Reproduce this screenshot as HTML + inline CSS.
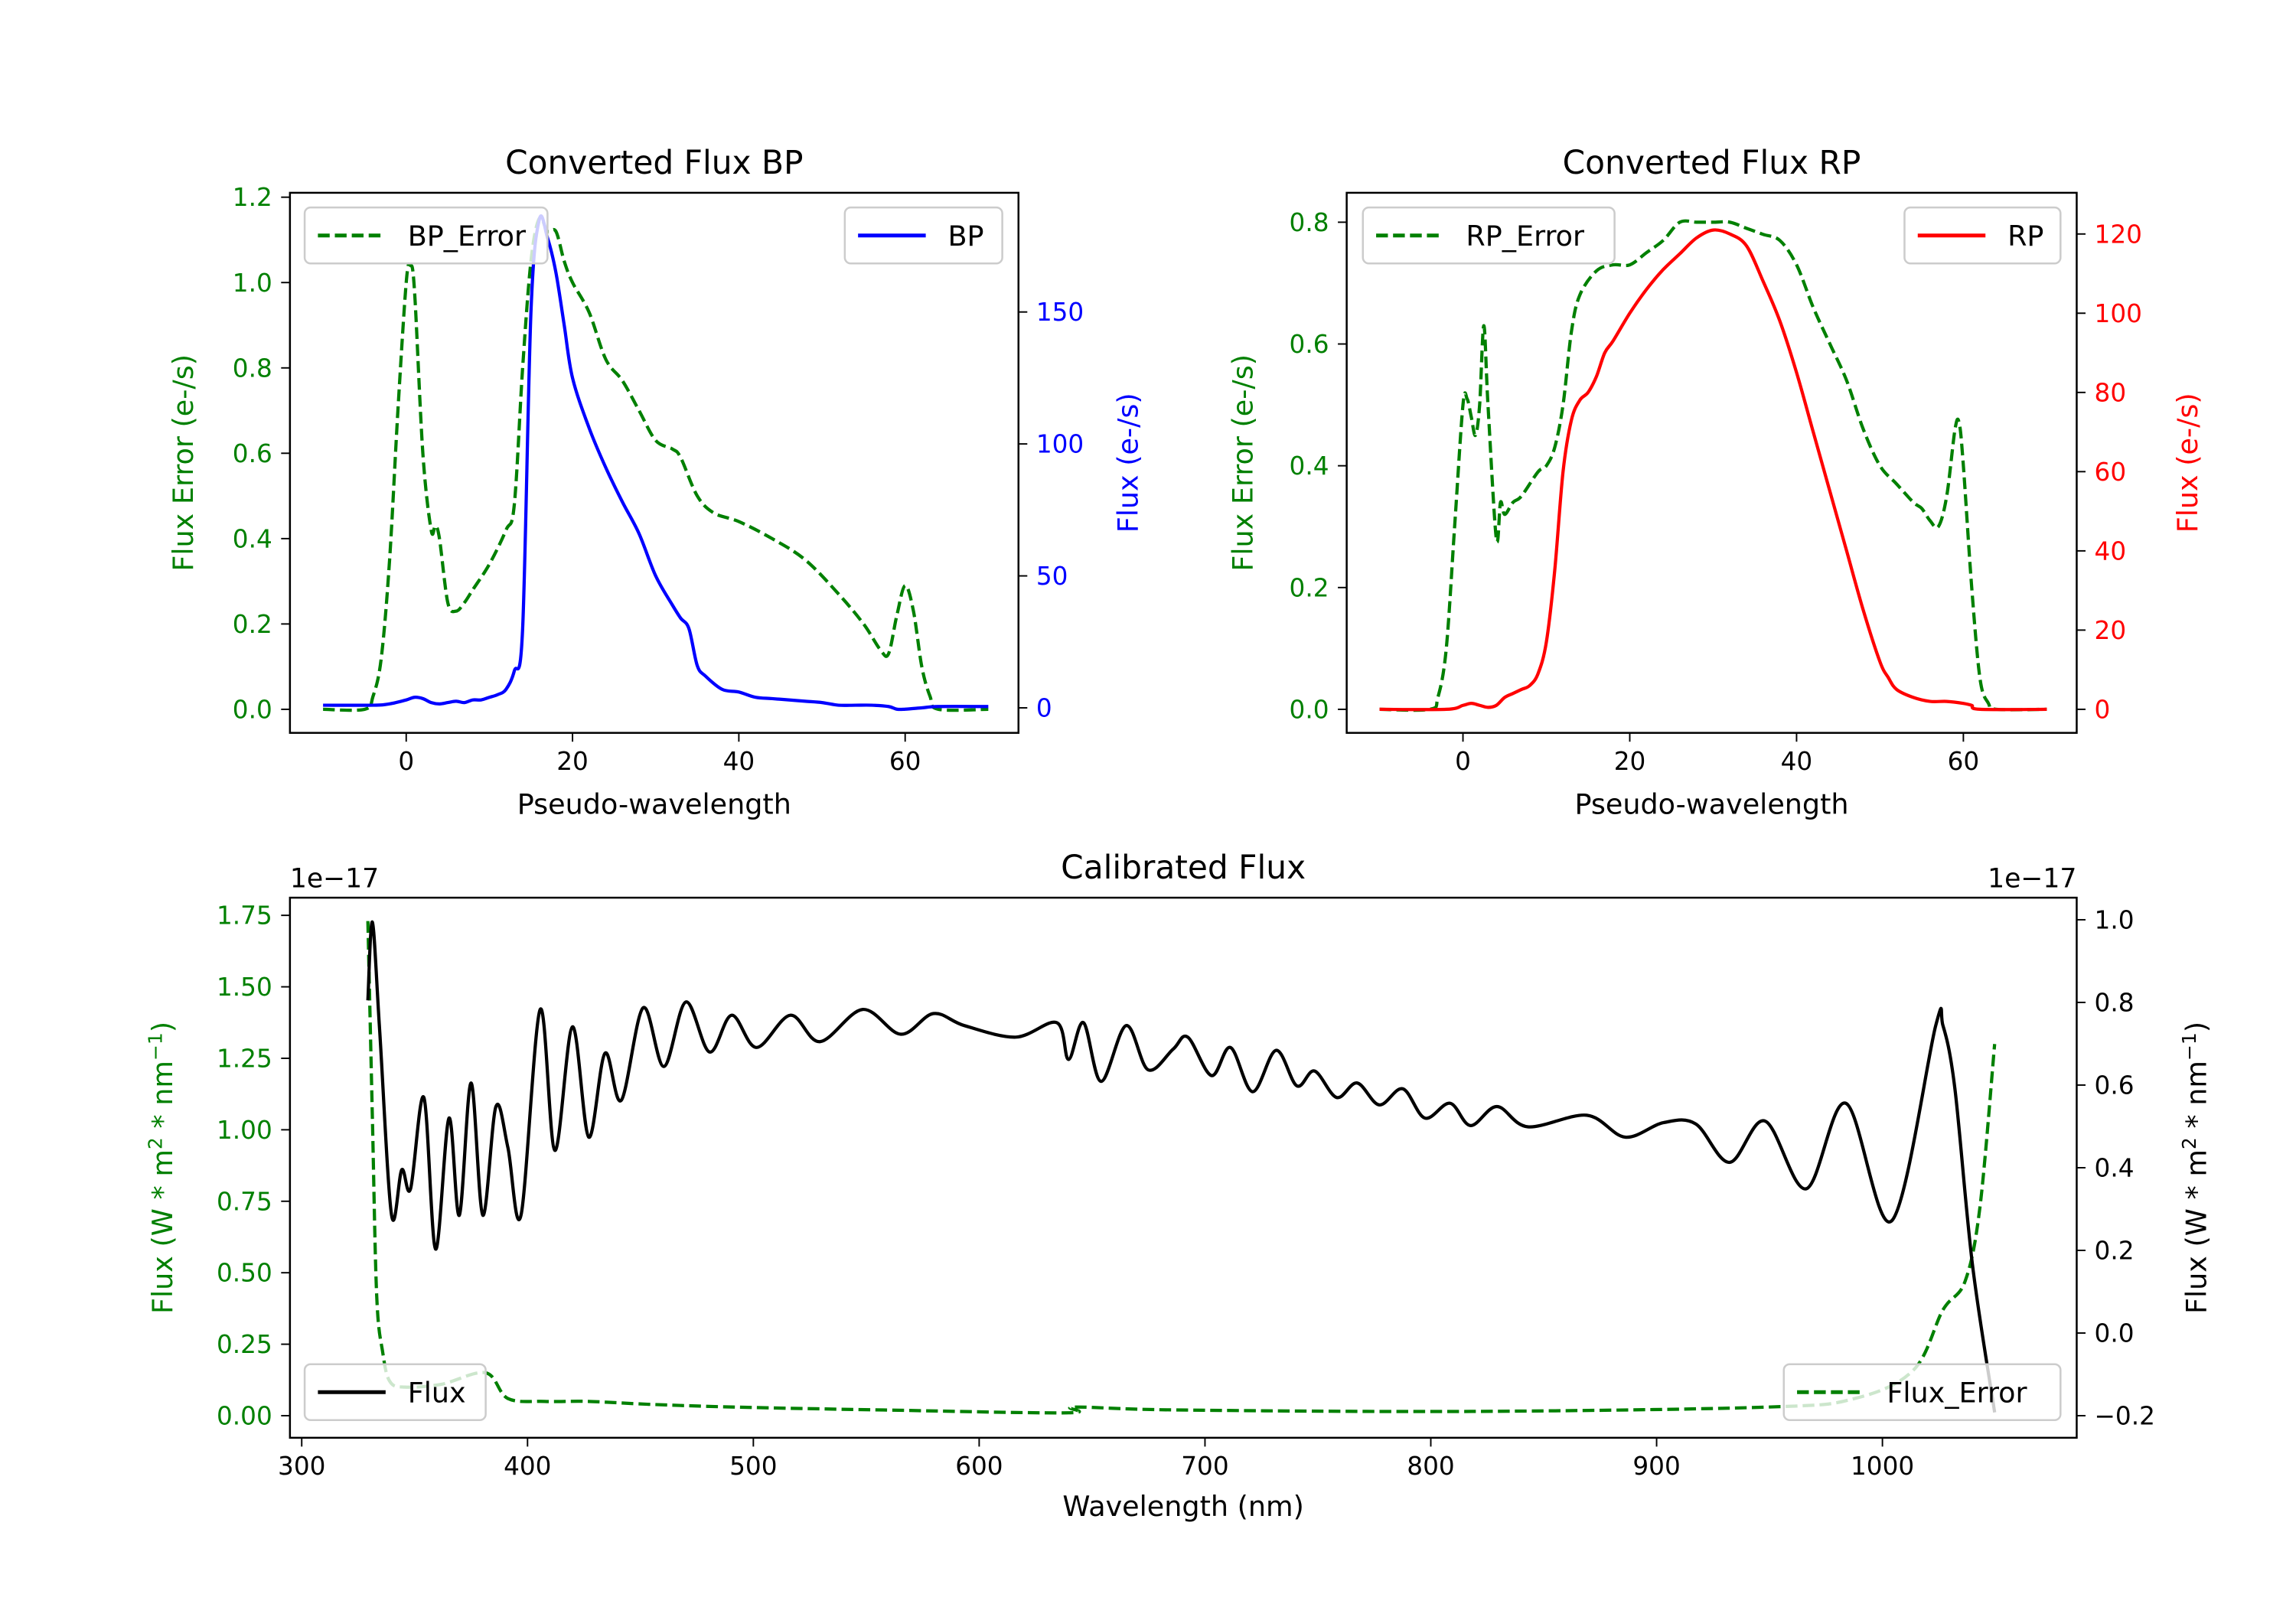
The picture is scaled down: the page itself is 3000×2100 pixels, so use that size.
<!DOCTYPE html>
<html><head><meta charset="utf-8"><style>
html,body{margin:0;padding:0;background:#fff}
svg{display:block;font-family:"DejaVu Sans","Liberation Sans",sans-serif}
</style></head><body>
<svg id="fig" width="3000" height="2100" viewBox="0 0 1560 1092" preserveAspectRatio="none" xmlns="http://www.w3.org/2000/svg"></svg>
<script>
// ---- data ----
const bpX=[-10,-4,-2,0,1,2,3,4,5,6,7,8,9,10,11,12,13,14,15,16,17,18,19,20,22,24,26,28,30,32,33,34,35,36,38,40,42,44,46,48,50,52,54,56,58,59,60,62,64,70];
const bpFlux=[1,1,1.5,3,4,3.5,2,1.5,2,2.5,2,3,3,4,5,7,14,30,150,185,178,165,145,125,106,91,78,66,50,39,34,30,16,12,7,6,4,3.5,3,2.5,2,1,1,1,0.5,-0.5,-0.5,0,0.5,0.5];
const bpErrX=[-10,-5,-4,-3,-2,-1,0,0.5,1,2,3,3.5,4,5,6,7,8,10,12,13,14,15,16,17,18,19,20,22,24,26,28,30,32,33,35,37,40,44,48,52,55,57,58,59,60,61,62,63,64,70];
const bpErr=[0,0,0.03,0.12,0.35,0.7,1.0,1.04,0.98,0.6,0.42,0.43,0.4,0.25,0.23,0.25,0.28,0.34,0.42,0.48,0.8,1.05,1.15,1.12,1.12,1.05,1.0,0.93,0.82,0.77,0.7,0.63,0.61,0.59,0.5,0.46,0.44,0.4,0.35,0.27,0.2,0.14,0.13,0.22,0.29,0.23,0.1,0.03,0,0];
const rpX=[-10,-2,0,1,2,3,4,5,6,7,8,9,10,11,12,13,14,15,16,17,18,20,22,24,26,28,30,32,34,36,38,40,42,44,46,48,50,51,52,54,56,58,60,61,62,70];
const rpFlux=[0,0,1,1.5,1,0.5,1,3,4,5,6,9,17,35,60,73,78,80,84,90,93,100,106,111,115,119,121,120,117,108,98,85,70,55,40,25,12,8,5,3,2,2,1.5,1,0,0];
const rpErrX=[-10,-4,-3,-2,-1,0,0.5,1,1.5,2,2.5,3,4,4.5,5,6,7,9,10,11,12,13,14,16,18,20,22,24,26,28,30,32,34,36,38,40,42,44,46,48,50,52,54,55,56,57,58,59,59.5,60,61,62,63,64,70];
const rpErr=[0,0,0.02,0.1,0.3,0.5,0.51,0.48,0.45,0.5,0.63,0.5,0.28,0.34,0.32,0.34,0.35,0.39,0.4,0.43,0.5,0.62,0.68,0.72,0.73,0.73,0.75,0.77,0.8,0.8,0.8,0.8,0.79,0.78,0.77,0.73,0.66,0.6,0.54,0.46,0.4,0.37,0.34,0.33,0.31,0.3,0.35,0.46,0.47,0.4,0.2,0.05,0.01,0,0];
const calX=[329.3,331.3,334.5,339.8,344.3,348.2,354.1,359.3,365.2,369.8,375,380.2,386,391.3,397.1,405.6,412.1,419.9,427.1,434.3,441.5,451.2,460.4,470.1,480.6,490.4,501.4,516.4,529.5,548.4,565.3,579.7,593.4,616.2,634.4,639.6,646.2,654,665.1,674.8,685.9,692.4,702.9,711.3,721.1,731.5,740.7,748.5,758.3,767.4,777.2,787.6,797.4,808.5,817.6,829.3,843,869.1,886.1,903,917.3,932.3,948,966.2,983.8,1004,1023.6,1026.8,1032.1,1039.9,1049.7];
const calFlux=[0.805,0.994,0.734,0.285,0.395,0.349,0.57,0.203,0.52,0.285,0.605,0.285,0.548,0.449,0.285,0.783,0.442,0.741,0.474,0.677,0.563,0.787,0.645,0.801,0.68,0.769,0.691,0.769,0.705,0.783,0.723,0.773,0.744,0.716,0.751,0.662,0.751,0.609,0.744,0.637,0.687,0.716,0.623,0.691,0.584,0.684,0.598,0.634,0.57,0.605,0.552,0.591,0.52,0.556,0.502,0.548,0.499,0.527,0.474,0.509,0.506,0.413,0.513,0.349,0.556,0.271,0.744,0.744,0.591,0.164,-0.192];
const calErrX=[329.3,331.3,333.2,335.9,339,345.6,361.9,381.5,391.3,407.6,427,453.2,492.3,557.5,639,642.2,687.9,818.3,948.6,987.7,1013.8,1026.8,1036.6,1043.2,1049.7];
const calErr=[1.73,1.04,0.42,0.22,0.12,0.10,0.11,0.15,0.06,0.05,0.05,0.04,0.03,0.02,0.01,0.03,0.02,0.015,0.03,0.06,0.16,0.37,0.47,0.73,1.30];
const bpXTicks=[0,20,40,60], bpLTicks=[0,0.2,0.4,0.6,0.8,1.0,1.2], bpRTicks=[0,50,100,150];
const rpXTicks=[0,20,40,60], rpLTicks=[0,0.2,0.4,0.6,0.8], rpRTicks=[0,20,40,60,80,100,120];
const calXTicks=[300,400,500,600,700,800,900,1000], calLTicks=[0,0.25,0.5,0.75,1.0,1.25,1.5,1.75], calRTicks=[-0.2,0,0.2,0.4,0.6,0.8,1.0];

const NS="http://www.w3.org/2000/svg", svg=document.getElementById('fig');
function el(tag,attrs,parent,txt){const e=document.createElementNS(NS,tag);for(const k in attrs)e.setAttribute(k,attrs[k]);if(txt!==undefined)e.textContent=txt;(parent||svg).appendChild(e);return e;}
function lin(d0,d1,r0,r1){return v=>r0+(v-d0)/(d1-d0)*(r1-r0);}
function path(xs,ys,sx,sy,smooth){const p=xs.map((x,i)=>[sx(x),sy(ys[i])]);let d='M'+p[0][0].toFixed(2)+','+p[0][1].toFixed(2);
 if(!smooth){for(let i=1;i<p.length;i++)d+='L'+p[i][0].toFixed(2)+','+p[i][1].toFixed(2);return d;}
 for(let i=0;i<p.length-1;i++){const a=p[Math.max(i-1,0)],b=p[i],c=p[i+1],e=p[Math.min(i+2,p.length-1)];
  const c1=[b[0]+(c[0]-a[0])/6,b[1]+(c[1]-a[1])/6],c2=[c[0]-(e[0]-b[0])/6,c[1]-(e[1]-b[1])/6];
  d+='C'+c1.map(v=>v.toFixed(2))+' '+c2.map(v=>v.toFixed(2))+' '+c[0].toFixed(2)+','+c[1].toFixed(2);}return d;}
function fmt(v,dec){return v<0?'\u2212'+Math.abs(v).toFixed(dec):v.toFixed(dec);}

function panel(o){
 const g=el('g',{});
 const {L,R,T,B}=o;
 const sx=lin(o.xd[0],o.xd[1],o.xr[0],o.xr[1]), sl=lin(o.ld[0],o.ld[1],o.lr[0],o.lr[1]), sr=lin(o.rd[0],o.rd[1],o.rr[0],o.rr[1]);
 const t=el('text',{x:(L+R)/2,y:T-13,'text-anchor':'middle','font-size':22,fill:'#000'},g,o.title);
 const clip='c'+o.name;const cp=el('clipPath',{id:clip},g);el('rect',{x:L,y:T,width:R-L,height:B-T},cp);
 const sg=el('g',{'clip-path':'url(#'+clip+')'},g);
 const e1=el('path',{d:path(o.ex,o.ey,sx,sl,true),fill:'none',stroke:'#008000','stroke-width':2.2,'stroke-dasharray':'8,3.5'},sg);
 const f1=el('path',{d:path(o.fx,o.fy,sx,sr,true),fill:'none',stroke:o.fc,'stroke-width':2.2},sg);
 el('rect',{x:L,y:T,width:R-L,height:B-T,fill:'none',stroke:'#000','stroke-width':1.3},g);
 o.xt.forEach(v=>{const x=sx(v);el('line',{x1:x,x2:x,y1:B,y2:B+6,stroke:'#000'},g);const tx=el('text',{x:x,y:B+25,'text-anchor':'middle','font-size':17},g,String(v));});
 o.lt.forEach(v=>{const y=sl(v);el('line',{x1:L-6,x2:L,y1:y,y2:y,stroke:'#000'},g);const tx=el('text',{x:L-12,y:y+6,'text-anchor':'end','font-size':17,fill:'#008000'},g,fmt(v,o.ldec));});
 o.rt.forEach(v=>{const y=sr(v);el('line',{x1:R,x2:R+6,y1:y,y2:y,stroke:'#000'},g);const tx=el('text',{x:R+12,y:y+6,'text-anchor':'start','font-size':17,fill:o.rtc},g,fmt(v,o.rdec));});
 const xl=el('text',{x:(L+R)/2,y:B+o.xly,'text-anchor':'middle','font-size':19},g,o.xlab);
 const ll=el('text',{transform:'translate('+(o.llx)+','+((T+B)/2)+') rotate(-90)','text-anchor':'middle','font-size':19,fill:'#008000'},g);ll.innerHTML=o.llab;
 const rl=el('text',{transform:'translate('+(o.rlx)+','+((T+B)/2)+') rotate(-90)','text-anchor':'middle','font-size':19,fill:o.rlc},g);rl.innerHTML=o.rlab;
 if(o.off){const a=el('text',{x:L,y:T-7,'font-size':18},g,'1e\u221217');
  const b=el('text',{x:R,y:T-7,'font-size':18,'text-anchor':'end'},g,'1e\u221217');}
 o.legs.forEach(lg=>{const lgG=el('g',{},g);
  el('rect',{x:lg.x,y:lg.y,width:lg.w,height:38,rx:4,fill:'#fff','fill-opacity':0.8,stroke:'#ccc','stroke-width':1.3},lgG);
  el('line',{x1:lg.x+9,x2:lg.x+55,y1:lg.y+19,y2:lg.y+19,stroke:lg.c,'stroke-width':2.6,'stroke-dasharray':lg.dash?'8,3.5':'none'},lgG);
  el('text',{x:lg.x+70,y:lg.y+26,'font-size':19},lgG,lg.label);});
}
panel({name:'bp-panel',title:'Converted Flux BP',L:197,R:692,T:131,B:498,xd:[0,60],xr:[276,615],ld:[0,1.2],lr:[482,134],rd:[0,150],rr:[481,212],
 ex:bpErrX,ey:bpErr,fx:bpX,fy:bpFlux,fc:'#0000ff',xt:bpXTicks,lt:bpLTicks,rt:bpRTicks,ldec:1,rdec:0,rtc:'#0000ff',xlab:'Pseudo-wavelength',xly:55,
 llab:'Flux Error (e-/s)',llx:131,rlab:'Flux (e-/s)',rlx:773,rlc:'#0000ff',
 legs:[{x:207,y:141,w:165,label:'BP_Error',c:'#008000',dash:true},{x:574,y:141,w:107,label:'BP',c:'#0000ff'}]});
panel({name:'rp-panel',title:'Converted Flux RP',L:915,R:1411,T:131,B:498,xd:[0,60],xr:[994,1334],ld:[0,0.8],lr:[482,151],rd:[0,120],rr:[482,159],
 ex:rpErrX,ey:rpErr,fx:rpX,fy:rpFlux,fc:'#ff0000',xt:rpXTicks,lt:rpLTicks,rt:rpRTicks,ldec:1,rdec:0,rtc:'#ff0000',xlab:'Pseudo-wavelength',xly:55,
 llab:'Flux Error (e-/s)',llx:851,rlab:'Flux (e-/s)',rlx:1493,rlc:'#ff0000',
 legs:[{x:926,y:141,w:171,label:'RP_Error',c:'#008000',dash:true},{x:1294,y:141,w:106,label:'RP',c:'#ff0000'}]});
panel({name:'calibrated-panel',title:'Calibrated Flux',L:197,R:1411,T:610,B:977,xd:[300,1000],xr:[205,1279],ld:[0,1.75],lr:[962,622],rd:[-0.2,1.0],rr:[962,625],
 ex:calErrX,ey:calErr,fx:calX,fy:calFlux,fc:'#000000',xt:calXTicks,lt:calLTicks,rt:calRTicks,ldec:2,rdec:1,rtc:'#000',xlab:'Wavelength (nm)',off:true,xly:53,
 llab:'Flux (W * m<tspan dy="-7" font-size="13">2</tspan><tspan dy="7"> * nm</tspan><tspan dy="-7" font-size="13">\u22121</tspan><tspan dy="7">)</tspan>',llx:117,
 rlab:'Flux (W * m<tspan dy="-7" font-size="13">2</tspan><tspan dy="7"> * nm</tspan><tspan dy="-7" font-size="13">\u22121</tspan><tspan dy="7">)</tspan>',rlx:1499,rlc:'#000',
 legs:[{x:207,y:927,w:123,label:'Flux',c:'#000'},{x:1212,y:927,w:188,label:'Flux_Error',c:'#008000',dash:true}]});
</script>
</body></html>
